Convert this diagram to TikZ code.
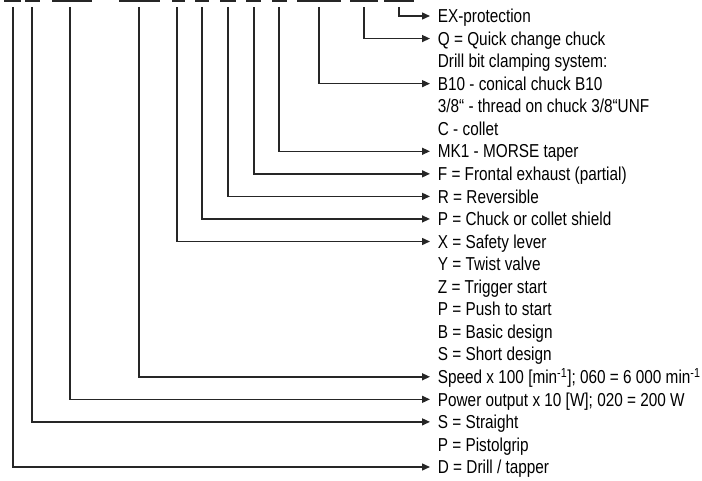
\documentclass[tikz,border=0pt]{standalone}
\usepackage{fontspec}
\setmainfont{Liberation Sans}[FakeStretch=0.82]
\usetikzlibrary{arrows.meta}
\begin{document}
\begin{tikzpicture}[x=1pt,y=-1pt,
  conn/.style={line width=1.4pt, draw=black!85, -{Triangle[length=8pt,width=7pt]}},
  codebar/.style={fill=black!85},
  lab/.style={anchor=west, inner sep=0pt, text height=13.4pt, text depth=0pt,
    font=\fontsize{18.7}{22}\selectfont}]
\useasboundingbox (0,0) rectangle (702,481);
% code underline fragments at the top edge
\fill[codebar] (4,0) rectangle (21,2);
\fill[codebar] (25,0) rectangle (40,2);
\fill[codebar] (52,0) rectangle (92,2);
\fill[codebar] (119,0) rectangle (160,2);
\fill[codebar] (172,0) rectangle (185,2);
\fill[codebar] (195,0) rectangle (209,2);
\fill[codebar] (220,0) rectangle (236,2);
\fill[codebar] (246,0) rectangle (261,2);
\fill[codebar] (272,0) rectangle (287,2);
\fill[codebar] (297,0) rectangle (341,2);
\fill[codebar] (350,0) rectangle (378,2);
\fill[codebar] (384,0) rectangle (414,2);
% labels
\node[lab] (r0)  at (437.7,{16+22.55*0})  {EX-protection};
\node[lab] (r1)  at (437.7,{16+22.55*1})  {Q = Quick change chuck};
\node[lab] (r2)  at (437.7,{16+22.55*2})  {Drill bit clamping system:};
\node[lab] (r3)  at (437.7,{16+22.55*3})  {B10 - conical chuck B10};
\node[lab] (r4)  at (437.7,{16+22.55*4})  {3/8“ - thread on chuck 3/8“UNF};
\node[lab] (r5)  at (437.7,{16+22.55*5})  {C - collet};
\node[lab] (r6)  at (437.7,{16+22.55*6})  {MK1 - MORSE taper};
\node[lab] (r7)  at (437.7,{16+22.55*7})  {F = Frontal exhaust (partial)};
\node[lab] (r8)  at (437.7,{16+22.55*8})  {R = Reversible};
\node[lab] (r9)  at (437.7,{16+22.55*9})  {P = Chuck or collet shield};
\node[lab] (r10) at (437.7,{16+22.55*10}) {X = Safety lever};
\node[lab] (r11) at (437.7,{16+22.55*11}) {Y = Twist valve};
\node[lab] (r12) at (437.7,{16+22.55*12}) {Z = Trigger start};
\node[lab] (r13) at (437.7,{16+22.55*13}) {P = Push to start};
\node[lab] (r14) at (437.7,{16+22.55*14}) {B = Basic design};
\node[lab] (r15) at (437.7,{16+22.55*15}) {S = Short design};
\node[lab] (r16) at (437.7,{16+22.55*16}) {Speed x 100 [min\textsuperscript{-1}]; 060 = 6 000 min\textsuperscript{-1}};
\node[lab] (r17) at (437.7,{16+22.55*17}) {Power output x 10 [W]; 020 = 200 W};
\node[lab] (r18) at (437.7,{16+22.55*18}) {S = Straight};
\node[lab] (r19) at (437.7,{16+22.55*19}) {P = Pistolgrip};
\node[lab] (r20) at (437.7,{16+22.55*20}) {D = Drill / tapper};
% tops of the connectors
\coordinate (t0)  at (399,7);
\coordinate (t1)  at (364,7);
\coordinate (t3)  at (319,7);
\coordinate (t6)  at (279,7);
\coordinate (t7)  at (254,7);
\coordinate (t8)  at (228,7);
\coordinate (t9)  at (202,7);
\coordinate (t10) at (177,7);
\coordinate (t16) at (139,7);
\coordinate (t17) at (70,7);
\coordinate (t18) at (32,7);
\coordinate (t20) at (13,7);
\foreach \k in {0,1,3,6,7,8,9,10,16,17,18,20}{
  \draw[conn] (t\k) |- ([xshift=-7.7pt]r\k.west);
}
\end{tikzpicture}
\end{document}
